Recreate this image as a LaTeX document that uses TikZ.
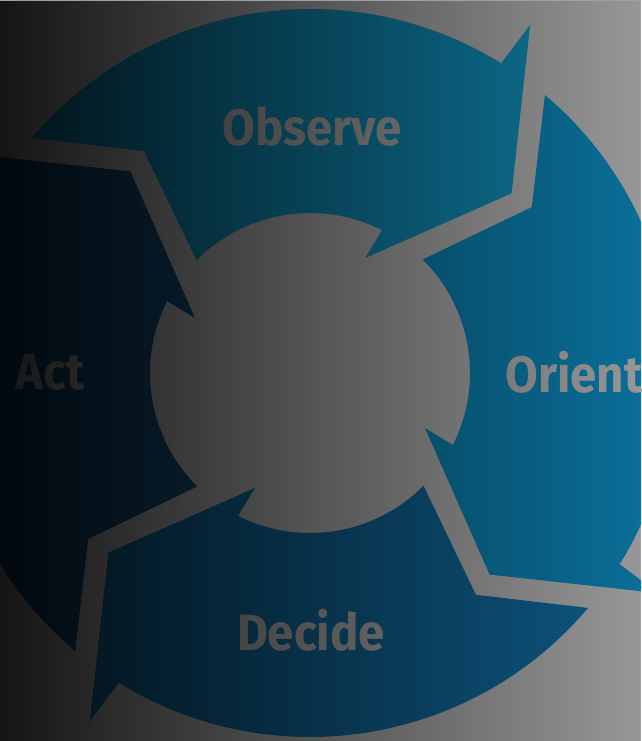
\documentclass[tikz,border=0pt]{standalone}
\usepackage{fontspec}
\setmainfont{Fira Sans}[FakeStretch=0.93]
\usetikzlibrary{fadings}

\definecolor{bggray}{HTML}{A0A0A0}
\definecolor{obscol}{HTML}{0F7FA5}
\definecolor{oricol}{HTML}{0B75A1}
\definecolor{deccol}{HTML}{0F5D8B}
\definecolor{actcol}{HTML}{12456B}

% black veil, heavy on the left, almost gone on the right
\tikzfading[name=darken, left color=transparent!13, right color=transparent!95]

% one arrow of the ring (the top one), polar coordinates around the centre
\newcommand{\ringarrow}{(139.8:364) arc[start angle=139.8, end angle=58.3, radius=364]
  -- (57.7:412) -- (41.7:270) -- (64.4:127.5) -- (63.3:160)
  arc[start angle=63.3, end angle=135.2, radius=160] -- (126.8:277) -- cycle}

\tikzset{
  label/.style={text=bggray, font=\fontsize{51}{60}\selectfont\bfseries, inner sep=0pt}
}

\begin{document}
\begin{tikzpicture}[x=1pt,y=1pt]
  \useasboundingbox (-310,-368) rectangle (331,373);
  \clip (-310,-368) rectangle (331,373);
  \fill[bggray] (-310,-368) rectangle (331,373);

  % the four arrows, each turned a quarter clockwise from the last
  \foreach \ang/\col in {0/obscol, -90/oricol, -180/deccol, -270/actcol}{
    \fill[\col, rotate=\ang] \ringarrow;
  }

  \node[label] (obs) at (2,246) {Observe};
  \node[label] (ori) at (264,1) {Orient};
  \node[label] (dec) at (1,-257) {Decide};
  \node[label] (act) at (-260,1) {Act};

  \fill[black, path fading=darken] (-310,-368) rectangle (331,373);
\end{tikzpicture}
\end{document}
